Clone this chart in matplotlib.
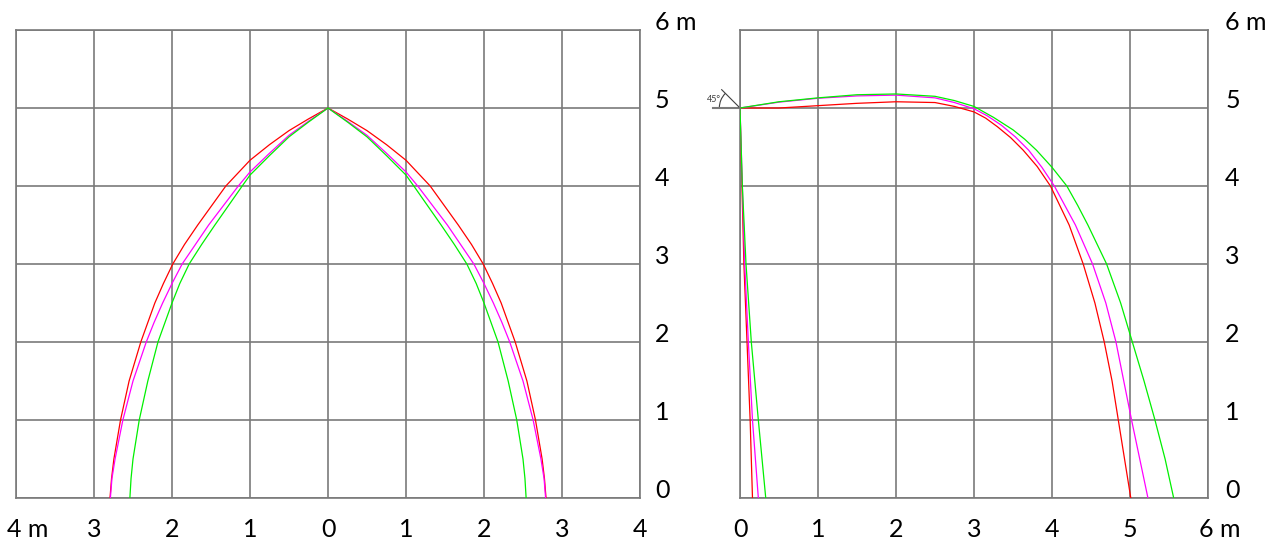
import matplotlib
matplotlib.use("Agg")
import matplotlib.pyplot as plt
from matplotlib.patches import Arc

plt.rcParams['font.family'] = ['Lato', 'DejaVu Sans']

# ---------------- data ----------------
# left panel: one half of each arch (x >= 0), mirrored for x < 0
red_arch_x = [0, 0.25, 0.5, 0.75, 1.0, 1.31, 1.67, 1.84, 1.99, 2.11, 2.22, 2.40, 2.55, 2.66, 2.745, 2.775, 2.795]
red_arch_y = [5, 4.86, 4.71, 4.53, 4.33, 4.0, 3.5, 3.25, 3.0, 2.75, 2.5, 2.0, 1.5, 1.0, 0.5, 0.25, 0]
mag_arch_x = [0, 0.25, 0.5, 0.75, 1.0, 1.15, 1.53, 1.70, 1.87, 2.0, 2.12, 2.23, 2.33, 2.50, 2.63, 2.73, 2.77, 2.79]
mag_arch_y = [5, 4.83, 4.65, 4.42, 4.18, 4.0, 3.5, 3.25, 3.0, 2.75, 2.5, 2.25, 2.0, 1.5, 1.0, 0.5, 0.25, 0]
grn_arch_x = [0, 0.25, 0.5, 0.75, 1.0, 1.10, 1.45, 1.62, 1.78, 1.90, 2.0, 2.09, 2.18, 2.31, 2.42, 2.50, 2.525, 2.54]
grn_arch_y = [5, 4.82, 4.63, 4.39, 4.14, 4.0, 3.5, 3.25, 3.0, 2.75, 2.5, 2.25, 2.0, 1.5, 1.0, 0.5, 0.25, 0]

# right panel: trajectories from (0, 5)
red_traj_x = [0, 0.5, 1.0, 1.5, 2.0, 2.5, 2.75, 3.0, 3.15, 3.3, 3.47, 3.63, 3.81, 3.98, 4.10, 4.22,
              4.40, 4.55, 4.67, 4.77, 4.85, 4.93, 5.01]
red_traj_y = [5.0, 5.0, 5.03, 5.06, 5.08, 5.07, 5.02, 4.95, 4.87, 4.76, 4.62, 4.46, 4.25, 4.0, 3.75, 3.5,
              3.0, 2.5, 2.0, 1.5, 1.0, 0.5, 0]
mag_traj_x = [0, 0.5, 1.0, 1.5, 2.0, 2.5, 2.75, 3.0, 3.17, 3.35, 3.53, 3.70, 3.87, 4.03, 4.30,
              4.52, 4.69, 4.82, 4.92, 5.02, 5.125, 5.23]
mag_traj_y = [5, 5.075, 5.125, 5.155, 5.165, 5.13, 5.07, 4.99, 4.90, 4.78, 4.63, 4.46, 4.24, 4.0, 3.5,
              3.0, 2.5, 2.0, 1.5, 1.0, 0.5, 0]
grn_traj_x = [0, 0.5, 1.0, 1.5, 2.0, 2.5, 2.75, 3.0, 3.25, 3.5, 3.65, 3.80, 4.0, 4.19, 4.33, 4.46,
              4.70, 4.88, 5.03, 5.18, 5.32, 5.45, 5.56]
grn_traj_y = [5, 5.08, 5.13, 5.17, 5.18, 5.15, 5.095, 5.02, 4.88, 4.72, 4.60, 4.46, 4.24, 4.0, 3.75, 3.5,
              3.0, 2.5, 2.0, 1.5, 1.0, 0.5, 0]

# right panel: steep drops from (0, 5)
red_drop_x = [0, 0.025, 0.05, 0.09, 0.13, 0.16]
mag_drop_x = [0, 0.03, 0.06, 0.107, 0.16, 0.235]
grn_drop_x = [0, 0.03, 0.077, 0.145, 0.235, 0.33]
drop_y = [5, 4, 3, 2, 1, 0]

left_xticks = [-4, -3, -2, -1, 0, 1, 2, 3, 4]
left_xlabels = ['4 m', '3', '2', '1', '0', '1', '2', '3', '4']
right_xticks = [0, 1, 2, 3, 4, 5, 6]
right_xlabels = ['0', '1', '2', '3', '4', '5', '6 m']
yticks = [0, 1, 2, 3, 4, 5, 6]
ylabels = ['0', '1', '2', '3', '4', '5', '6 m']

angle_label = '45°'

# ---------------- figure ----------------
W, H = 1279, 544
fig = plt.figure(figsize=(W / 100, H / 100), dpi=100)
axL = fig.add_axes([16 / W, (H - 498) / H, 624 / W, 468 / H])
axR = fig.add_axes([740 / W, (H - 498) / H, 468 / W, 468 / H])

GRID = '#7a7a7a'
RED, MAG, GRN = '#ff0000', '#ff00ff', '#00f000'
LW = 0.9
FS = 18


def style(ax, xt, xlim):
    ax.set_xlim(*xlim)
    ax.set_ylim(0, 6)
    ax.set_xticks(xt)
    ax.set_yticks(yticks)
    ax.grid(True, color=GRID, lw=1.2, zorder=0)
    ax.tick_params(length=0, labelbottom=False, labelleft=False)
    for s in ax.spines.values():
        s.set_color(GRID)
        s.set_linewidth(1.2)
    ax.set_axisbelow(True)


style(axL, left_xticks, (-4, 4))
style(axR, right_xticks, (0, 6))

# left arches
for xs, ys, c in [(red_arch_x, red_arch_y, RED),
                  (mag_arch_x, mag_arch_y, MAG),
                  (grn_arch_x, grn_arch_y, GRN)]:
    axL.plot(xs, ys, color=c, lw=LW, zorder=3, solid_joinstyle='round')
    axL.plot([-v for v in xs], ys, color=c, lw=LW, zorder=3, solid_joinstyle='round')

# right trajectories
for xs, ys, c in [(red_traj_x, red_traj_y, RED),
                  (mag_traj_x, mag_traj_y, MAG),
                  (grn_traj_x, grn_traj_y, GRN)]:
    axR.plot(xs, ys, color=c, lw=LW, zorder=3, solid_joinstyle='round')
for xs, c in [(red_drop_x, RED), (mag_drop_x, MAG), (grn_drop_x, GRN)]:
    axR.plot(xs, drop_y, color=c, lw=LW, zorder=3)

# 45 degree marker
axR.plot([-0.35, 0], [5, 5], color=GRID, lw=1.5, clip_on=False, zorder=2)
axR.plot([0, -0.235], [5, 5.235], color='#404040', lw=0.8, clip_on=False, zorder=2)
axR.add_patch(Arc((0, 5), 0.53, 0.53, theta1=135, theta2=180, color='#404040',
                  lw=0.8, clip_on=False))
axR.text(-0.33, 5.115, angle_label, fontsize=6.5, color='#404040', ha='center',
         va='center', clip_on=False)

# labels
for ax, xt, xl, ylx in [(axL, left_xticks, left_xlabels, 4.19),
                        (axR, right_xticks, right_xlabels, 6.22)]:
    for v, lab in zip(xt, xl):
        if ' m' in lab:
            ax.text(v - 0.12, -0.41, lab, fontsize=FS, ha='left', va='center', clip_on=False)
        else:
            ax.text(v, -0.41, lab, fontsize=FS, ha='center', va='center', clip_on=False)
    for v, lab in zip(yticks, ylabels):
        ax.text(ylx, v + 0.1, lab, fontsize=FS, ha='left', va='center', clip_on=False)

fig.savefig('out.png', dpi=100)
